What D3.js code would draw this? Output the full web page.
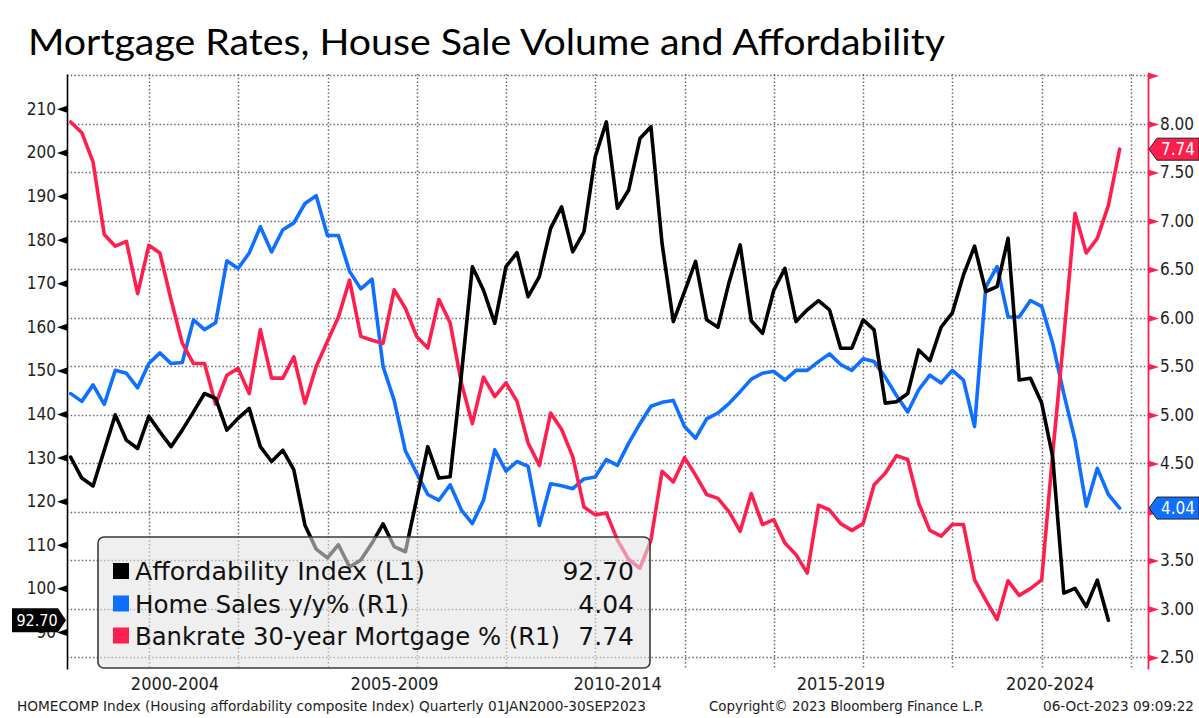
<!DOCTYPE html>
<html>
<head>
<meta charset="utf-8">
<script src="https://cdn.jsdelivr.net/npm/d3@7"></script>
<style>
  html, body { margin: 0; padding: 0; background: #ffffff; }
  svg { display: block; }
</style>
</head>
<body>
<svg id="chart" width="1199" height="718"></svg>
<script>
// ---------------- DATA ----------------
const titleText = "Mortgage Rates, House Sale Volume and Affordability";

const quarters = [
 "2000Q1","2000Q2","2000Q3","2000Q4","2001Q1","2001Q2","2001Q3","2001Q4",
 "2002Q1","2002Q2","2002Q3","2002Q4","2003Q1","2003Q2","2003Q3","2003Q4",
 "2004Q1","2004Q2","2004Q3","2004Q4","2005Q1","2005Q2","2005Q3","2005Q4",
 "2006Q1","2006Q2","2006Q3","2006Q4","2007Q1","2007Q2","2007Q3","2007Q4",
 "2008Q1","2008Q2","2008Q3","2008Q4","2009Q1","2009Q2","2009Q3","2009Q4",
 "2010Q1","2010Q2","2010Q3","2010Q4","2011Q1","2011Q2","2011Q3","2011Q4",
 "2012Q1","2012Q2","2012Q3","2012Q4","2013Q1","2013Q2","2013Q3","2013Q4",
 "2014Q1","2014Q2","2014Q3","2014Q4","2015Q1","2015Q2","2015Q3","2015Q4",
 "2016Q1","2016Q2","2016Q3","2016Q4","2017Q1","2017Q2","2017Q3","2017Q4",
 "2018Q1","2018Q2","2018Q3","2018Q4","2019Q1","2019Q2","2019Q3","2019Q4",
 "2020Q1","2020Q2","2020Q3","2020Q4","2021Q1","2021Q2","2021Q3","2021Q4",
 "2022Q1","2022Q2","2022Q3","2022Q4","2023Q1","2023Q2","2023Q3"
];

// Affordability Index (L1) - left axis, ends 2023Q2
const affordability = [
 130.1,125.3,123.5,131.7,139.8,134.0,132.1,139.5,135.9,132.5,136.3,140.5,
 144.7,143.6,136.3,139.0,141.3,132.5,129.1,131.7,127.2,114.5,109.0,107.0,
 110.0,104.9,106.5,110.4,114.8,109.6,108.4,120.5,132.5,125.3,125.6,149.0,
 173.8,168.4,160.8,173.8,177.0,166.9,171.5,182.6,187.5,177.2,181.8,199.0,
 207.0,187.2,191.4,203.2,205.9,179.1,161.2,168.1,175.0,161.6,159.9,170.3,
 178.8,161.4,158.5,168.4,173.4,161.2,163.9,166.0,163.9,155.1,155.1,161.6,
 159.3,142.5,142.8,144.7,154.7,152.2,159.9,163.2,171.9,178.5,168.1,169.2,
 180.3,147.8,148.2,142.5,130.2,98.9,100.0,95.8,101.9,92.70
];

// Home Sales y/y% (R1) - right axis
const homeSales = [
 5.22,5.14,5.31,5.11,5.46,5.43,5.28,5.53,5.64,5.53,5.54,5.98,
 5.88,5.95,6.59,6.51,6.67,6.94,6.68,6.91,6.98,7.18,7.26,6.85,
 6.85,6.48,6.30,6.40,5.50,5.15,4.63,4.40,4.18,4.12,4.28,4.02,
 3.88,4.12,4.64,4.42,4.52,4.47,3.86,4.29,4.27,4.24,4.34,4.36,
 4.54,4.48,4.71,4.91,5.09,5.13,5.15,4.88,4.76,4.96,5.02,5.12,
 5.24,5.37,5.43,5.45,5.36,5.46,5.46,5.55,5.63,5.52,5.46,5.58,
 5.55,5.39,5.20,5.03,5.26,5.41,5.33,5.46,5.36,4.88,6.32,6.53,
 6.01,6.01,6.18,6.12,5.74,5.22,4.74,4.06,4.45,4.18,4.04
];

// Bankrate 30-year Mortgage % (R1) - right axis
const mortgage = [
 8.02,7.91,7.61,6.86,6.74,6.79,6.25,6.75,6.67,6.19,5.74,5.53,
 5.53,5.11,5.41,5.48,5.22,5.88,5.38,5.38,5.60,5.12,5.50,5.76,
 6.01,6.39,5.81,5.77,5.74,6.29,6.10,5.81,5.69,6.19,5.95,5.33,
 4.91,5.39,5.19,5.33,5.14,4.71,4.48,5.02,4.85,4.57,4.05,3.97,
 3.99,3.71,3.51,3.42,3.71,4.42,4.31,4.56,4.38,4.18,4.14,4.00,
 3.80,4.19,3.87,3.92,3.68,3.56,3.37,4.07,4.02,3.88,3.81,3.88,
 4.28,4.40,4.58,4.54,4.09,3.81,3.75,3.87,3.87,3.30,3.09,2.89,
 3.29,3.14,3.21,3.30,4.60,5.80,7.08,6.67,6.82,7.16,7.74
];

const leftTicks  = [90,100,110,120,130,140,150,160,170,180,190,200,210];
const leftMinor  = [85,95,105,115,125,135,145,155,165,175,185,195,205,215];
const rightTicks = [2.5,3.0,3.5,4.0,4.5,5.0,5.5,6.0,6.5,7.0,7.5,8.0,8.5];
const rightMinor = [2.75,3.25,3.75,4.25,4.75,5.25,5.75,6.25,6.75,7.25,7.75,8.25];
const gridYears  = [2002,2004,2006,2008,2010,2012,2014,2016,2018,2020,2022,2024];
const periods = [
  {label:"2000-2004", start:2000, end:2005},
  {label:"2005-2009", start:2005, end:2010},
  {label:"2010-2014", start:2010, end:2015},
  {label:"2015-2019", start:2015, end:2020},
  {label:"2020-2024", start:2020, end:2025}
];
const seriesNames = ["Affordability Index (L1)", "Home Sales y/y% (R1)", "Bankrate 30-year Mortgage % (R1)"];
const footerLeft  = "HOMECOMP Index (Housing affordability composite Index)  Quarterly 01JAN2000-30SEP2023";
const footerMid   = "Copyright\u00A9 2023 Bloomberg Finance L.P.";
const footerRight = "06-Oct-2023 09:09:22";

// ---------------- STYLE / LAYOUT ----------------
const COL_BLACK = "#000000", COL_BLUE = "#0f6fff", COL_RED = "#ff1f4e";
const plot = {left:67, right:1148, top:74, bottom:669};
const condFont = "'DejaVu Sans Condensed','DejaVu Sans',sans-serif";
const legendNameWidths = [290, 274, 425];

const svg = d3.select("#chart");

const qDate = q => new Date(+q.slice(0,4), (+q.slice(5))*3, 0);
const x = d3.scaleTime()
  .domain([new Date(2000,2,1), new Date(2024,4,19)])
  .range([plot.left, plot.right]);
const yL = d3.scaleLinear().domain([81.5, 218.0]).range([plot.bottom, plot.top]);
const yR = d3.scaleLinear().domain([2.381, 8.515]).range([plot.bottom, plot.top]);

const lastAff = affordability[affordability.length-1];
const lastSales = homeSales[homeSales.length-1];
const lastRate = mortgage[mortgage.length-1];

// Title
svg.append("text")
  .attr("x", 28).attr("y", 55)
  .attr("font-family", "Lato, 'Open Sans', sans-serif")
  .attr("font-size", 36)
  .attr("fill", "#000")
  .attr("textLength", 917).attr("lengthAdjust", "spacingAndGlyphs")
  .text(titleText);

// Grid
const grid = svg.append("g").attr("stroke", "#6a6a6a").attr("stroke-width", 1.5)
  .attr("stroke-dasharray", "1.5 2.2");
grid.selectAll("line.h").data(rightTicks).join("line").attr("class","h")
  .attr("x1", plot.left).attr("x2", plot.right)
  .attr("y1", d => Math.round(yR(d))+0.5).attr("y2", d => Math.round(yR(d))+0.5);
grid.selectAll("line.v").data(gridYears).join("line").attr("class","v")
  .attr("x1", d => Math.round(x(new Date(d,0,1)))+0.5).attr("x2", d => Math.round(x(new Date(d,0,1)))+0.5)
  .attr("y1", plot.top).attr("y2", plot.bottom);

// Left axis
const gL = svg.append("g").attr("transform", `translate(${plot.left},0)`);
gL.call(d3.axisLeft(yL).tickValues(leftMinor).tickSize(5).tickFormat(""));
gL.call(d3.axisLeft(yL).tickValues(leftTicks).tickSize(0).tickPadding(11).tickFormat(d3.format("d")));
gL.select(".domain").attr("stroke", "#000").attr("stroke-width", 1.6);
gL.selectAll(".tick line").attr("stroke", "#000").attr("stroke-width", 1.5);
gL.selectAll(".tick text").attr("font-size", 17).attr("fill", "#1e1e1e").attr("font-family", condFont);
gL.selectAll(".tick").filter(d => leftTicks.includes(d))
  .append("path").attr("d", "M-10,0 L0,-3.5 L0,3.5 Z").attr("fill", "#000");

// Right axis (labels hidden where the last-value badge covers them, as in the reference)
const gR = svg.append("g").attr("transform", `translate(${plot.right},0)`);
gR.call(d3.axisRight(yR).tickValues(rightMinor).tickSize(6).tickFormat(""));
gR.call(d3.axisRight(yR).tickValues(rightTicks).tickSize(0).tickPadding(12)
  .tickFormat(d => (d > 8.2 || Math.abs(yR(d) - yR(lastSales)) < 14 || Math.abs(yR(d) - yR(lastRate)) < 14) ? "" : d3.format(".2f")(d)));
gR.selectAll(".domain").attr("stroke", COL_RED).attr("stroke-width", 1.8);
gR.selectAll(".tick line").attr("stroke", COL_RED).attr("stroke-width", 1.5);
gR.selectAll(".tick text").attr("font-size", 17).attr("fill", "#1e1e1e").attr("font-family", condFont);
gR.selectAll(".tick").filter(d => rightTicks.includes(d))
  .append("path").attr("d", "M0,-3.5 L11,0 L0,3.5 Z").attr("fill", COL_RED);

// Lines
const lineL = d3.line().x(d => x(d.date)).y(d => yL(d.v));
const lineR = d3.line().x(d => x(d.date)).y(d => yR(d.v));
const toPts = arr => arr.map((v,i) => ({date: qDate(quarters[i]), v}));

const lines = svg.append("g").attr("fill","none").attr("stroke-width", 3.6)
  .attr("stroke-linejoin","round").attr("stroke-linecap","round");
lines.append("path").attr("d", lineR(toPts(homeSales))).attr("stroke", COL_BLUE);
lines.append("path").attr("d", lineR(toPts(mortgage))).attr("stroke", COL_RED);
lines.append("path").attr("d", lineL(toPts(affordability))).attr("stroke", COL_BLACK);

// Legend
const lg = svg.append("g");
lg.append("rect").attr("x", 98).attr("y", 537).attr("width", 552).attr("height", 131)
  .attr("rx", 6).attr("fill", "#e4e4e4").attr("fill-opacity", 0.58)
  .attr("stroke", "#3a3a3a").attr("stroke-width", 1.6);
const lastVals = [lastAff, lastSales, lastRate];
const lgCols = [COL_BLACK, COL_BLUE, COL_RED];
const rowY = [571, 603.5, 635.5];
seriesNames.forEach((name, i) => {
  lg.append("rect").attr("x", 113).attr("y", rowY[i]-8).attr("width", 16).attr("height", 16).attr("fill", lgCols[i]);
  lg.append("text").attr("x", 135).attr("y", rowY[i]+9)
    .attr("font-family", "'DejaVu Sans', sans-serif").attr("font-size", 25).attr("fill", "#111")
    .attr("textLength", legendNameWidths[i]).attr("lengthAdjust", "spacingAndGlyphs")
    .text(name);
  lg.append("text").attr("x", 634).attr("y", rowY[i]+9).attr("text-anchor","end")
    .attr("font-family", "'DejaVu Sans', sans-serif").attr("font-size", 25).attr("fill", "#111")
    .text(d3.format(".2f")(lastVals[i]));
});

// Badges
function badgeRight(val, fill) {
  const cy = yR(val);
  const g = svg.append("g");
  g.append("path")
    .attr("d", `M${plot.right+1},${cy} L${plot.right+9},${cy-11} L1199,${cy-11} L1199,${cy+11} L${plot.right+9},${cy+11} Z`)
    .attr("fill", fill).attr("stroke", "#222").attr("stroke-width", 1);
  g.append("text").attr("x", 1178).attr("y", cy+6).attr("text-anchor","middle")
    .attr("font-family", condFont).attr("font-size", 17)
    .attr("fill", "#fff").text(d3.format(".2f")(val));
}
badgeRight(lastRate, COL_RED);
badgeRight(lastSales, COL_BLUE);

(function badgeLeft(val){
  const cy = yL(val);
  const g = svg.append("g");
  g.append("path")
    .attr("d", `M12,${cy-12} L58,${cy-12} L${plot.left-1},${cy} L58,${cy+12} L12,${cy+12} Z`)
    .attr("fill", "#000");
  g.append("text").attr("x", 37).attr("y", cy+6).attr("text-anchor","middle")
    .attr("font-family", condFont).attr("font-size", 16)
    .attr("fill", "#fff").text(d3.format(".2f")(val));
})(lastAff);

// Period labels
const [d0, d1] = x.domain();
svg.append("g").selectAll("text").data(periods).join("text")
  .attr("x", p => {
    const a = Math.max(+new Date(p.start,0,1), +d0), b = Math.min(+new Date(p.end,0,1), +d1);
    return (x(new Date(a)) + x(new Date(b))) / 2;
  })
  .attr("y", 690).attr("text-anchor","middle")
  .attr("font-family", condFont).attr("font-size", 18)
  .attr("fill", "#1e1e1e").text(p => p.label);

// Footer
svg.append("text").attr("x", 17).attr("y", 711).attr("font-family", condFont).attr("font-size", 13.5)
  .attr("fill", "#1e1e1e").attr("textLength", 629).attr("lengthAdjust","spacingAndGlyphs").text(footerLeft);
svg.append("text").attr("x", 709).attr("y", 711).attr("font-family", condFont).attr("font-size", 13.5)
  .attr("fill", "#1e1e1e").attr("textLength", 275).attr("lengthAdjust","spacingAndGlyphs").text(footerMid);
svg.append("text").attr("x", 1043).attr("y", 711).attr("font-family", condFont).attr("font-size", 13.5)
  .attr("fill", "#1e1e1e").attr("textLength", 151).attr("lengthAdjust","spacingAndGlyphs").text(footerRight);
</script>
</body>
</html>
